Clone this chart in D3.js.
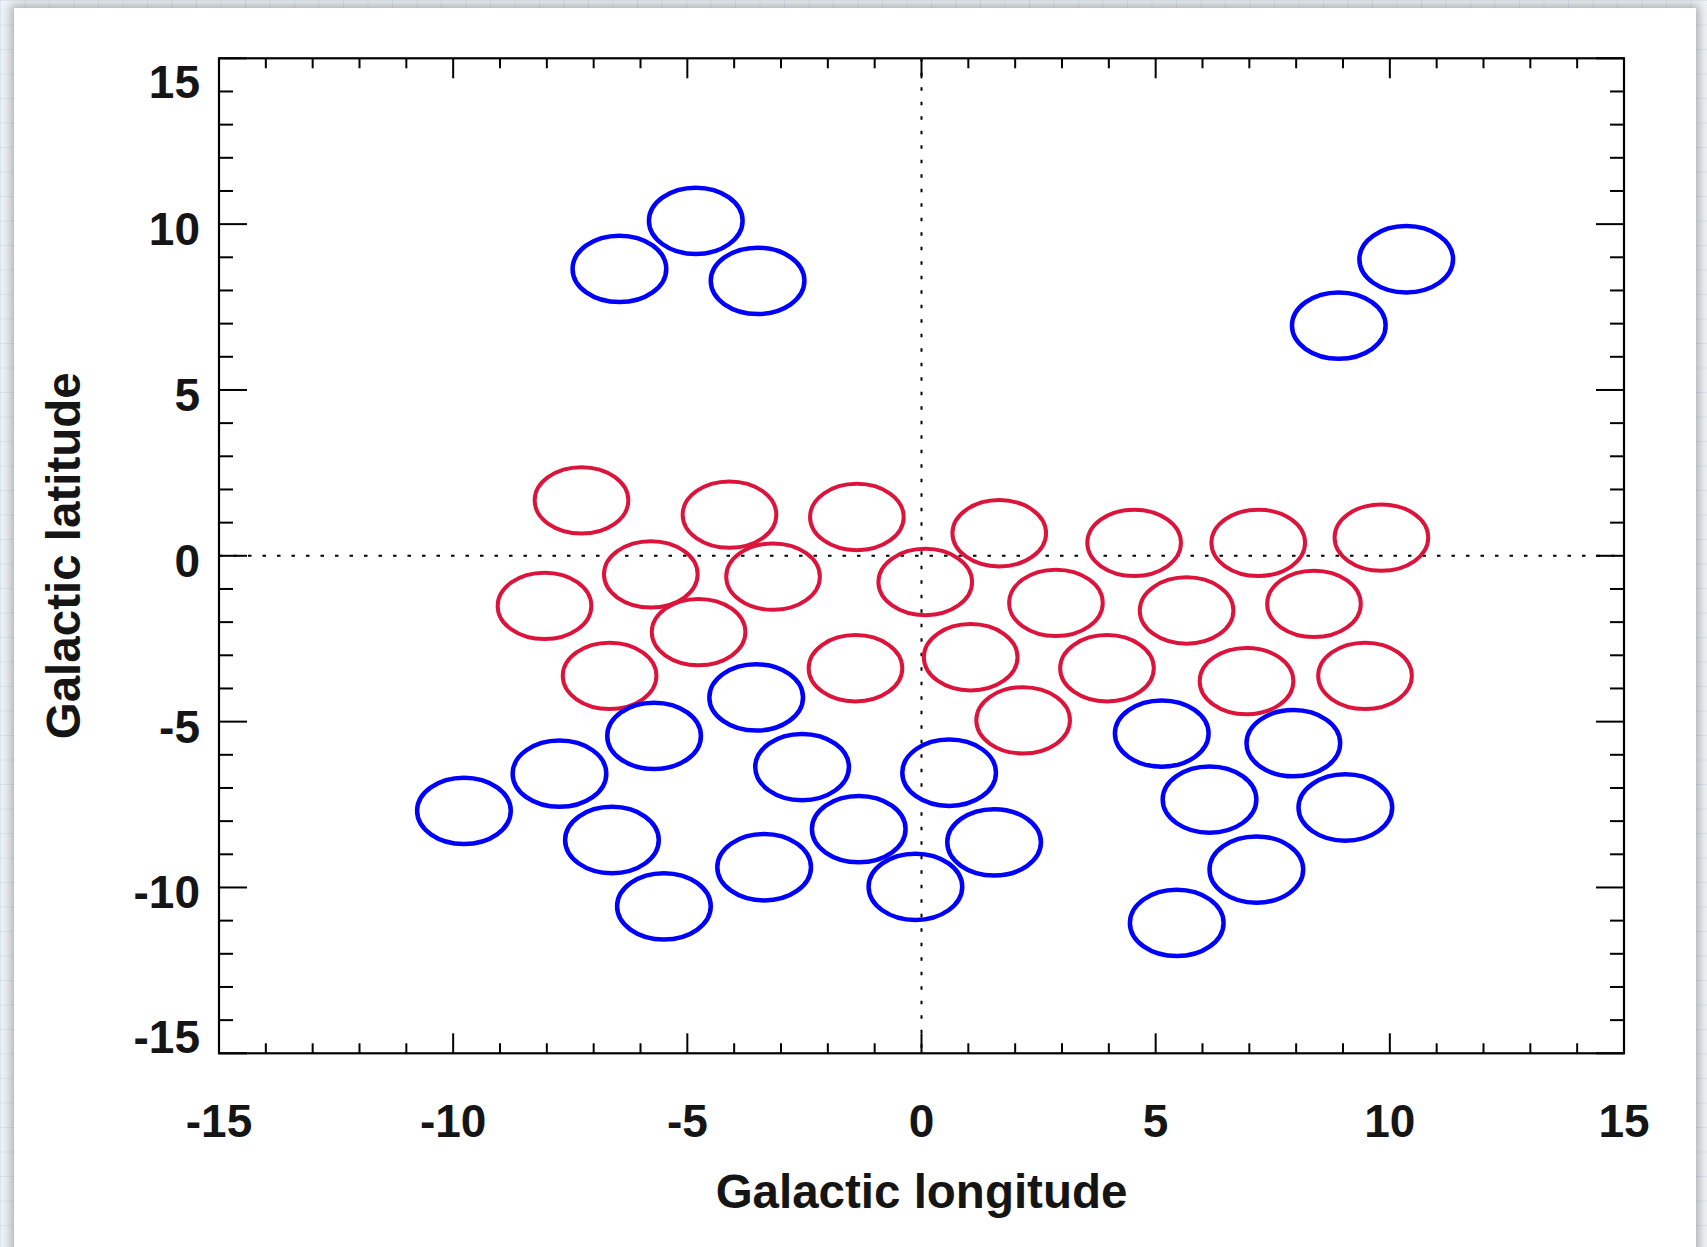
<!DOCTYPE html>
<html>
<head>
<meta charset="utf-8">
<script src="https://cdn.jsdelivr.net/npm/d3@7"></script>
<style>
  html, body { margin: 0; padding: 0; width: 1707px; height: 1247px; overflow: hidden; }
  body {
    background-color: #eef2f5;
    background-image:
      linear-gradient(to right, rgba(180,205,225,0.35) 1px, transparent 1px),
      linear-gradient(to bottom, rgba(180,205,225,0.35) 1px, transparent 1px);
    background-size: 24.5px 24.5px;
    position: relative;
  }
  #card {
    position: absolute; left: 14px; top: 8px; width: 1682px; height: 1300px;
    background: #ffffff;
    box-shadow: 0 0 9px 3px rgba(0,0,0,0.28);
  }
  svg { position: absolute; left: 0; top: 0; }
  text { font-family: "Liberation Sans", Arial, Helvetica, sans-serif; font-weight: bold; fill: #151515; }
</style>
</head>
<body>
<div id="card"></div>
<script>
// ---- Data (degrees) ----
const blueLon = [-4.82, -6.45, -3.50, 10.35, 8.91, -9.77, -7.73, -5.71, -3.53, -2.55, -6.61, -5.50,
                 -3.36, -1.34, -0.13, 0.59, 1.55, 5.13, 6.15, 7.94, 9.05, 7.15, 5.45];
const blueLat = [10.10, 8.65, 8.29, 8.94, 6.94, -7.69, -6.57, -5.43, -4.27, -6.37, -8.57, -10.57,
                 -9.39, -8.24, -9.98, -6.54, -8.64, -5.36, -7.35, -5.65, -7.59, -9.46, -11.07];
const redLon  = [-7.26, -4.10, -1.38, 1.66, 4.54, 7.19, 9.82, -8.05, -5.78, -3.17, 0.08, 2.87,
                 5.66, 8.38, -4.76, -6.66, -1.41, 1.05, 3.96, 6.94, 9.47, 2.17];
const redLat  = [1.67, 1.24, 1.17, 0.68, 0.39, 0.39, 0.55, -1.51, -0.56, -0.63, -0.79, -1.42,
                 -1.65, -1.45, -2.30, -3.62, -3.39, -3.06, -3.39, -3.78, -3.62, -4.96];
const fieldRadius = 1.0;
const xTickLabels = [-15, -10, -5, 0, 5, 10, 15];
const yTickLabels = [15, 10, 5, 0, -5, -10, -15];
const xTitle = "Galactic longitude";
const yTitle = "Galactic latitude";

// ---- Layout ----
const W = 1707, H = 1247;
const L = 219, R = 1624, T = 58.3, B = 1053.3;

const svg = d3.select("body").append("svg").attr("width", W).attr("height", H);

const x = d3.scaleLinear().domain([-15, 15]).range([L, R]);
const y = d3.scaleLinear().domain([-15, 15]).range([B, T]);

const minor = d3.range(-15, 16, 1);

// Dotted reference lines
svg.append("line").attr("x1", x(-15)).attr("x2", x(15)).attr("y1", y(0)).attr("y2", y(0))
  .attr("stroke", "#000").attr("stroke-width", 2).attr("stroke-dasharray", "3.5,11");
svg.append("line").attr("x1", x(0)).attr("x2", x(0)).attr("y1", y(15)).attr("y2", y(-15))
  .attr("stroke", "#000").attr("stroke-width", 2).attr("stroke-dasharray", "3.5,11");

// Fields
const g = svg.append("g");
const rx = x(fieldRadius) - x(0), ry = y(0) - y(fieldRadius);
g.selectAll("ellipse.red").data(d3.zip(redLon, redLat)).join("ellipse")
  .attr("class", "red")
  .attr("cx", d => x(d[0])).attr("cy", d => y(d[1]))
  .attr("rx", rx).attr("ry", ry)
  .attr("fill", "none").attr("stroke", "#dc143c").attr("stroke-width", 4);
g.selectAll("ellipse.blue").data(d3.zip(blueLon, blueLat)).join("ellipse")
  .attr("class", "blue")
  .attr("cx", d => x(d[0])).attr("cy", d => y(d[1]))
  .attr("rx", rx).attr("ry", ry)
  .attr("fill", "none").attr("stroke", "#0000ff").attr("stroke-width", 4.5);

// Axes: bottom & top (x), left & right (y) with ticks every 1, major every 5
const axG = svg.append("g").attr("stroke", "#000").attr("stroke-width", 2);
function isMajor(v) { return v % 5 === 0; }
// bottom
axG.selectAll("line.bt").data(minor).join("line").attr("class", "bt")
  .attr("x1", d => x(d)).attr("x2", d => x(d))
  .attr("y1", B).attr("y2", d => B - (isMajor(d) ? 20 : 10));
// top
axG.selectAll("line.tt").data(minor).join("line").attr("class", "tt")
  .attr("x1", d => x(d)).attr("x2", d => x(d))
  .attr("y1", T).attr("y2", d => T + (isMajor(d) ? 20 : 10));
// left
axG.selectAll("line.lt").data(minor).join("line").attr("class", "lt")
  .attr("y1", d => y(d)).attr("y2", d => y(d))
  .attr("x1", L).attr("x2", d => L + (isMajor(d) ? 28 : 14));
// right
axG.selectAll("line.rt").data(minor).join("line").attr("class", "rt")
  .attr("y1", d => y(d)).attr("y2", d => y(d))
  .attr("x1", R).attr("x2", d => R - (isMajor(d) ? 28 : 14));
// frame
svg.append("rect").attr("x", L).attr("y", T).attr("width", R - L).attr("height", B - T)
  .attr("fill", "none").attr("stroke", "#000").attr("stroke-width", 2.2);

// Tick labels
svg.selectAll("text.xl").data(xTickLabels).join("text").attr("class", "xl")
  .attr("x", d => x(d)).attr("y", 1137)
  .attr("text-anchor", "middle").attr("font-size", 46)
  .text(d => d);
svg.selectAll("text.yl").data(yTickLabels).join("text").attr("class", "yl")
  .attr("x", 200)
  .attr("y", d => Math.max(T + 40, Math.min(B, y(d) + 21)))
  .attr("text-anchor", "end").attr("font-size", 46)
  .text(d => d);

// Titles
svg.append("text").attr("x", (L + R) / 2).attr("y", 1208)
  .attr("text-anchor", "middle").attr("font-size", 47.5).text(xTitle);
svg.append("text").attr("transform", `translate(80,${(T + B) / 2}) rotate(-90)`)
  .attr("text-anchor", "middle").attr("font-size", 47.5).text(yTitle);
</script>
</body>
</html>
